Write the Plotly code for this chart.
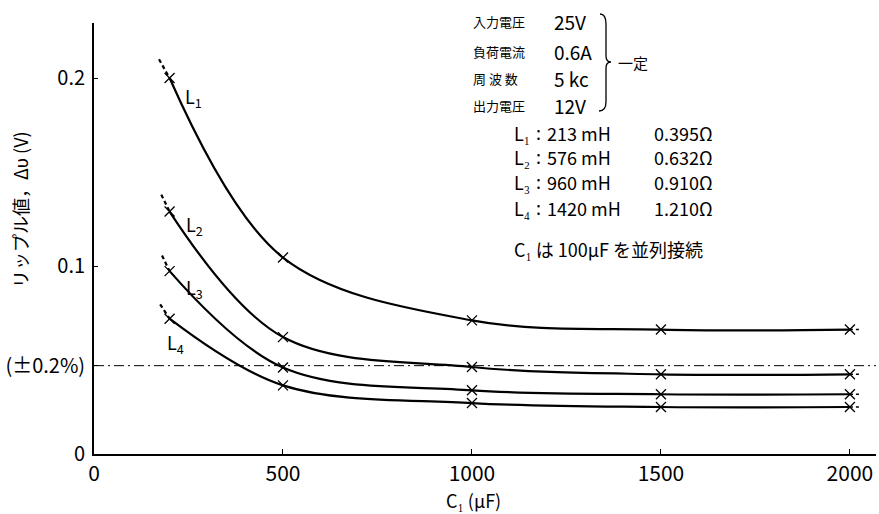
import plotly.graph_objects as go

# ---------------- data ----------------
c1_uF = [200, 500, 1000, 1500, 2000]
ripple_L1 = [0.200, 0.1045, 0.0711, 0.0662, 0.0662]
ripple_L2 = [0.129, 0.0622, 0.0463, 0.0424, 0.0424]
ripple_L3 = [0.0973, 0.0460, 0.0339, 0.0318, 0.0318]
ripple_L4 = [0.0720, 0.0365, 0.0271, 0.0250, 0.0250]
series_names = ["L1", "L2", "L3", "L4"]

# short dashed extrapolations at both ends of each curve
left_ext_c = [172, 178, 180, 175]
left_ext_v = [0.210, 0.138, 0.1056, 0.0796]
right_ext_c = 2030

limit_level = 0.047          # (±0.2%) reference line
y_tick_vals = [0, limit_level, 0.1, 0.2]
y_tick_text = ["0", "(±0.2%)", "0.1", "0.2"]
x_tick_vals = [0, 500, 1000, 1500, 2000]
x_tick_text = ["0", "500", "1000", "1500", "2000"]

cond_labels = ["入力電圧", "負荷電流", "周 波 数", "出力電圧"]
cond_values = ["25V", "0.6A", "5 kc", "12V"]
coil_names = ["L₁", "L₂", "L₃", "L₄"]
coil_inductance = ["213 mH", "576 mH", "960 mH", "1420 mH"]
coil_resistance = ["0.395Ω", "0.632Ω", "0.910Ω", "1.210Ω"]

# ---------------- layout geometry ----------------
FIG_W, FIG_H = 879, 514
L, T, W, H = 94, 23, 782, 431
X_MAX = 2069
Y_MAX = 0.2293
FONT = "Noto Sans CJK JP"


def px(x):
    return (x - L) / W


def py(y):
    return (T + H - y) / H


fig = go.Figure()
series = [ripple_L1, ripple_L2, ripple_L3, ripple_L4]
for i, vals in enumerate(series):
    fig.add_trace(go.Scatter(
        x=c1_uF, y=vals, mode="lines", line=dict(color="black", width=2.2, shape="spline"),
        showlegend=False, hoverinfo="skip"))
    fig.add_trace(go.Scatter(
        x=[left_ext_c[i], c1_uF[0]], y=[left_ext_v[i], vals[0]], mode="lines",
        line=dict(color="black", width=2.2, dash="4px,3px"), showlegend=False, hoverinfo="skip"))
    fig.add_trace(go.Scatter(
        x=[c1_uF[-1], right_ext_c], y=[vals[-1], vals[-1]], mode="lines",
        line=dict(color="black", width=1.6, dash="3px,3px"), showlegend=False, hoverinfo="skip"))
    fig.add_trace(go.Scatter(
        x=c1_uF, y=vals, mode="markers", name=series_names[i],
        marker=dict(symbol="x-thin-open", size=10, color="black",
                    line=dict(color="black", width=1.3)),
        showlegend=False))

# reference limit line
fig.add_trace(go.Scatter(
    x=[0, X_MAX], y=[limit_level, limit_level], mode="lines",
    line=dict(color="black", width=1, dash="10px,4px,2px,4px"), showlegend=False, hoverinfo="skip"))

ann = []


def text(x, y, s, size, xa="left", ya="middle", angle=0):
    ann.append(dict(x=px(x), y=py(y), xref="paper", yref="paper", text=s, showarrow=False,
                    xanchor=xa, yanchor=ya, textangle=angle,
                    font=dict(family=FONT, size=size, color="black")))


# curve labels
text(183, 97, "L<sub>1</sub>", 18)
text(184, 225, "L<sub>2</sub>", 18)
text(184, 288, "L<sub>3</sub>", 18)
text(165, 343, "L<sub>4</sub>", 18)

# condition block
cond_y = [21, 51, 78, 105]
for lab, val, yy in zip(cond_labels, cond_values, cond_y):
    text(471, yy, lab, 13)
    text(552, yy, val, 19)
text(616, 62, "一定", 15)

coil_y = [133, 157, 182, 208]
for nm, ind, res, yy in zip(coil_names, coil_inductance, coil_resistance, coil_y):
    text(512, yy, nm, 18)
    text(534, yy - 1, ":", 18)
    text(545, yy, ind, 18)
    text(715, yy, res, 18, xa="right")
text(512, 249, "C₁ は 100μF を並列接続", 18)

# axis titles
text(20, 210, "リップル値，Δυ (V)", 18, xa="center", angle=-90)
text(473, 500, "C₁ (μF)", 18, xa="center")

# brace for "一定"
bx = 606
brace = (f"M {px(bx-6)} {py(14)} Q {px(bx)} {py(14)} {px(bx)} {py(24)} "
         f"L {px(bx)} {py(56)} Q {px(bx)} {py(62)} {px(bx+5)} {py(62)} "
         f"Q {px(bx)} {py(62)} {px(bx)} {py(68)} L {px(bx)} {py(102)} "
         f"Q {px(bx)} {py(111)} {px(bx-7)} {py(111)}")
shapes = [dict(type="path", xref="paper", yref="paper", path=brace,
               line=dict(color="black", width=1.3))]

fig.update_layout(
    width=FIG_W, height=FIG_H,
    margin=dict(l=L, r=FIG_W - L - W, t=T, b=FIG_H - T - H),
    paper_bgcolor="white", plot_bgcolor="white",
    font=dict(family=FONT, color="black"),
    annotations=ann, shapes=shapes,
    xaxis=dict(range=[0, X_MAX], showgrid=False, zeroline=False, showline=True,
               linecolor="black", linewidth=1.8, ticks="inside", ticklen=5, tickwidth=1.2,
               tickcolor="black", tickvals=x_tick_vals, ticktext=x_tick_text,
               tickfont=dict(size=21, family=FONT, color="black")),
    yaxis=dict(range=[0, Y_MAX], showgrid=False, zeroline=False, showline=True,
               linecolor="black", linewidth=1.8, ticks="inside", ticklen=4, tickwidth=1.2,
               tickcolor="black", tickvals=y_tick_vals, ticktext=y_tick_text,
               ticklabelstandoff=3,
               tickfont=dict(size=20, family=FONT, color="black")),
)

fig.write_html("out.html", config={"displayModeBar": False},
               post_script="document.body.style.margin='0';document.body.style.overflow='hidden';")
